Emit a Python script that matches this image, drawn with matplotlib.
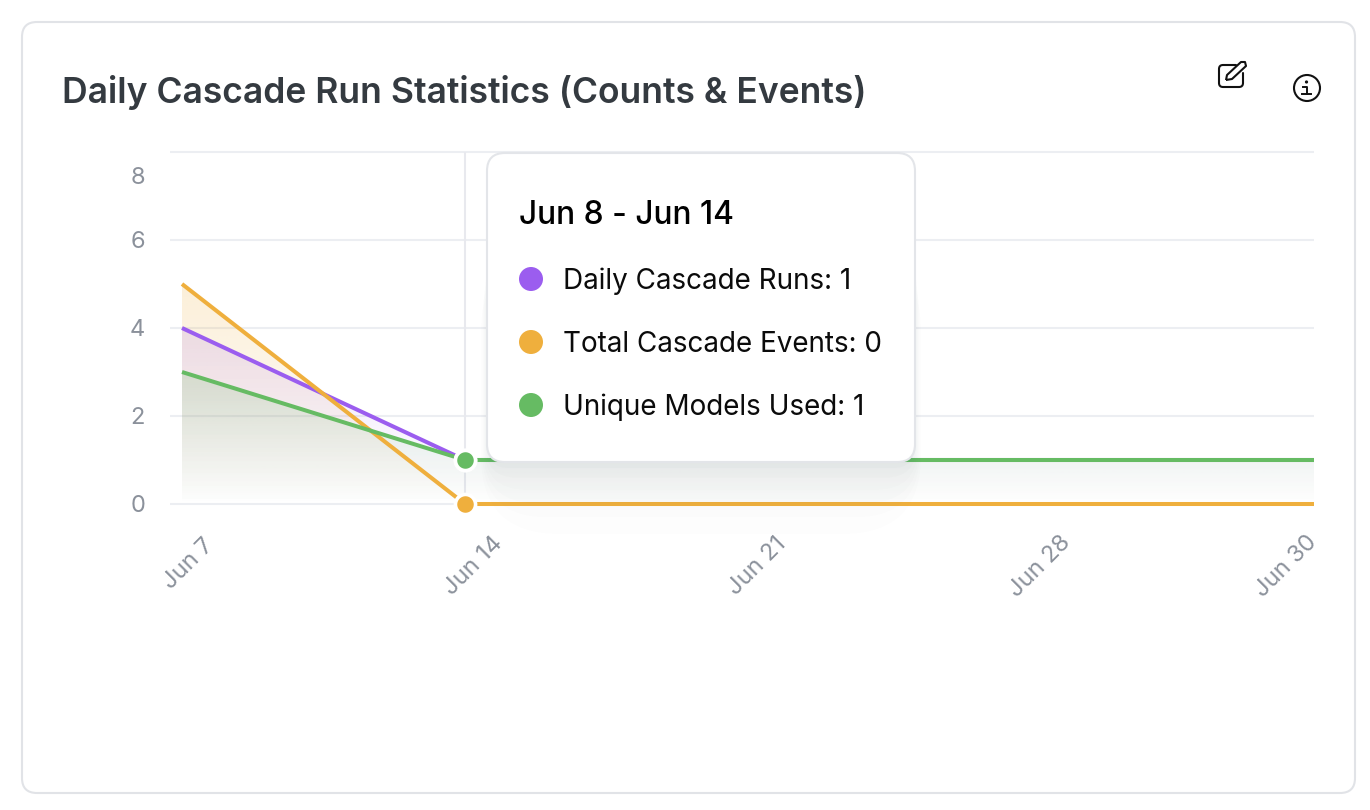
import numpy as np
import matplotlib.pyplot as plt
from matplotlib.patches import FancyBboxPatch, Circle, PathPatch
from matplotlib.path import Path
from matplotlib.colors import to_rgb
from matplotlib.transforms import ScaledTranslation

plt.rcParams['font.family'] = ['Inter', 'DejaVu Sans']

dates = ['Jun 7', 'Jun 14', 'Jun 21', 'Jun 28', 'Jun 30']
cascade_runs = [4, 1, 1, 1, 1]
cascade_events = [5, 0, 0, 0, 0]
unique_models = [3, 1, 1, 1, 1]
y_ticks = [0, 2, 4, 6, 8]

title = 'Daily Cascade Run Statistics (Counts & Events)'
hover_label = 'Jun 8 - Jun 14'
hover_index = 1

PURPLE = '#9b5def'
ORANGE = '#efaf3d'
GREEN = '#66bb63'
GRID = '#eceef2'
TICK = '#8b919b'

W, H = 1370, 810
fig = plt.figure(figsize=(W / 100, H / 100), dpi=100, facecolor='white')


def px_axes(z):
    a = fig.add_axes([0, 0, 1, 1], zorder=z)
    a.set_xlim(0, W)
    a.set_ylim(H, 0)
    a.axis('off')
    a.patch.set_alpha(0)
    return a


# card behind everything
back = px_axes(0)
back.add_patch(FancyBboxPatch((22, 22), 1333, 771, boxstyle='round,pad=0,rounding_size=15',
                              fc='white', ec='#e1e3e7', lw=1.5))
back.text(62, 92.5, title, fontsize=25.56, fontweight='semibold', color='#343a40', va='center')

# plot area, pixel box 170..1314 / 152..504
ax = fig.add_axes([170 / W, 1 - 504 / H, (1314 - 170) / W, (504 - 152) / H], zorder=1)
ax.patch.set_alpha(0)
x = np.arange(len(dates))
ax.set_xlim(-12 / 283, 4)
ax.set_ylim(0, 8)
for s in ax.spines.values():
    s.set_visible(False)

ax.set_yticks(y_ticks)
ax.set_yticklabels([str(v) for v in y_ticks])
ax.tick_params(axis='y', length=0, pad=18, labelsize=17, labelcolor=TICK)
ax.yaxis.grid(True, color=GRID, lw=1.5, clip_on=False)
ax.set_axisbelow(True)
for g in ax.get_ygridlines():
    g.set_clip_on(False)
    g.set_solid_capstyle('butt')

# the top label is pushed down inside the chart
top_label = ax.get_yticklabels()[-1]
top_label.set_transform(top_label.get_transform() + ScaledTranslation(0, -24 / 100, fig.dpi_scale_trans))

ax.set_xticks(x)
ax.set_xticklabels(dates, rotation=45, ha='center', va='center', rotation_mode='anchor')
ax.tick_params(axis='x', length=0, pad=0, labelsize=17, labelcolor=TICK)
label_dx = [7, 9, 9, 9, -28]
label_dy = [-60, -62, -62, -62, -62]
for lab, dx, dy in zip(ax.get_xticklabels(), label_dx, label_dy):
    lab.set_transform(lab.get_transform() + ScaledTranslation(dx / 100, dy / 100, fig.dpi_scale_trans))

ax.axvline(x[hover_index], color='#e8e9ee', lw=1.5, zorder=1)

# gradient areas, strongest at each series' own max
for values, col, top_alpha in [(cascade_events, ORANGE, 0.2),
                               (cascade_runs, PURPLE, 0.16),
                               (unique_models, GREEN, 0.2)]:
    grad = np.zeros((256, 2, 4))
    grad[..., :3] = to_rgb(col)
    grad[..., 3] = np.linspace(top_alpha, 0, 256)[:, None]
    area = ax.fill_between(x, values, 0, color='none')
    im = ax.imshow(grad, extent=(x[0], x[-1], 0, max(values)), aspect='auto',
                   origin='upper', zorder=2, interpolation='bilinear')
    im.set_clip_path(area.get_paths()[0], ax.transData)
ax.set_xlim(-12 / 283, 4)
ax.set_ylim(0, 8)

for values, col in [(cascade_runs, PURPLE), (cascade_events, ORANGE), (unique_models, GREEN)]:
    ax.plot(x, values, color=col, lw=2.9, clip_on=False, zorder=3, solid_capstyle='butt', solid_joinstyle='round')
    ax.plot(x[hover_index], values[hover_index], 'o', ms=14.5, mfc=col, mec='white', mew=2.6,
            clip_on=False, zorder=4)

# tooltip, icons on top
top = px_axes(5)
for grow, a in zip([60, 46, 34, 23, 13, 5], [0.006, 0.008, 0.010, 0.012, 0.014, 0.018]):
    top.add_patch(FancyBboxPatch((487 - grow * 0.1, 153 + 100), 428 + grow * 0.2, 209 + grow * 1.2,
                                 boxstyle='round,pad=0,rounding_size=%d' % (18 + grow),
                                 fc='#4a5568', ec='none', alpha=a))
top.add_patch(FancyBboxPatch((487, 153), 428, 309, boxstyle='round,pad=0,rounding_size=18',
                             fc='white', ec='#e3e5e9', lw=1.5))
top.text(519, 216, hover_label, fontsize=22.8, fontweight='medium', color='black', va='center')

rows = [('Daily Cascade Runs', cascade_runs, PURPLE, 279),
        ('Total Cascade Events', cascade_events, ORANGE, 342),
        ('Unique Models Used', unique_models, GREEN, 405)]
for name, values, col, ypx in rows:
    top.add_patch(Circle((531, ypx), 12, fc=col, ec='none'))
    top.text(563.5, ypx + 2.5, '%s: %d' % (name, values[hover_index]), fontsize=20.05, color='#0b0b0b', va='center')

# edit icon
square = Path([(1236, 65), (1223, 65), (1219, 65), (1219, 69), (1219, 83), (1219, 87), (1223, 87),
               (1239, 87), (1243, 87), (1243, 83), (1243, 73)],
              [Path.MOVETO, Path.LINETO, Path.CURVE3, Path.CURVE3, Path.LINETO, Path.CURVE3, Path.CURVE3,
               Path.LINETO, Path.CURVE3, Path.CURVE3, Path.LINETO])
top.add_patch(PathPatch(square, fc='none', ec='#111111', lw=1.5, capstyle='round'))
pencil = Path([(1226, 80), (1227, 75), (1241, 62), (1245, 62), (1246, 66), (1232, 79), (1226, 80)])
top.add_patch(PathPatch(pencil, fc='none', ec='#111111', lw=1.5, joinstyle='round'))

# info icon
top.add_patch(Circle((1307, 88), 13, fc='none', ec='#111111', lw=1.5))
top.add_patch(Circle((1306.5, 82), 1.6, fc='#111111', ec='none'))
top.plot([1303, 1307, 1307], [86.5, 86.5, 94], color='#111111', lw=1.4)
top.plot([1302.5, 1311.5], [94, 94], color='#111111', lw=1.4)

fig.savefig('out.png', dpi=100)
